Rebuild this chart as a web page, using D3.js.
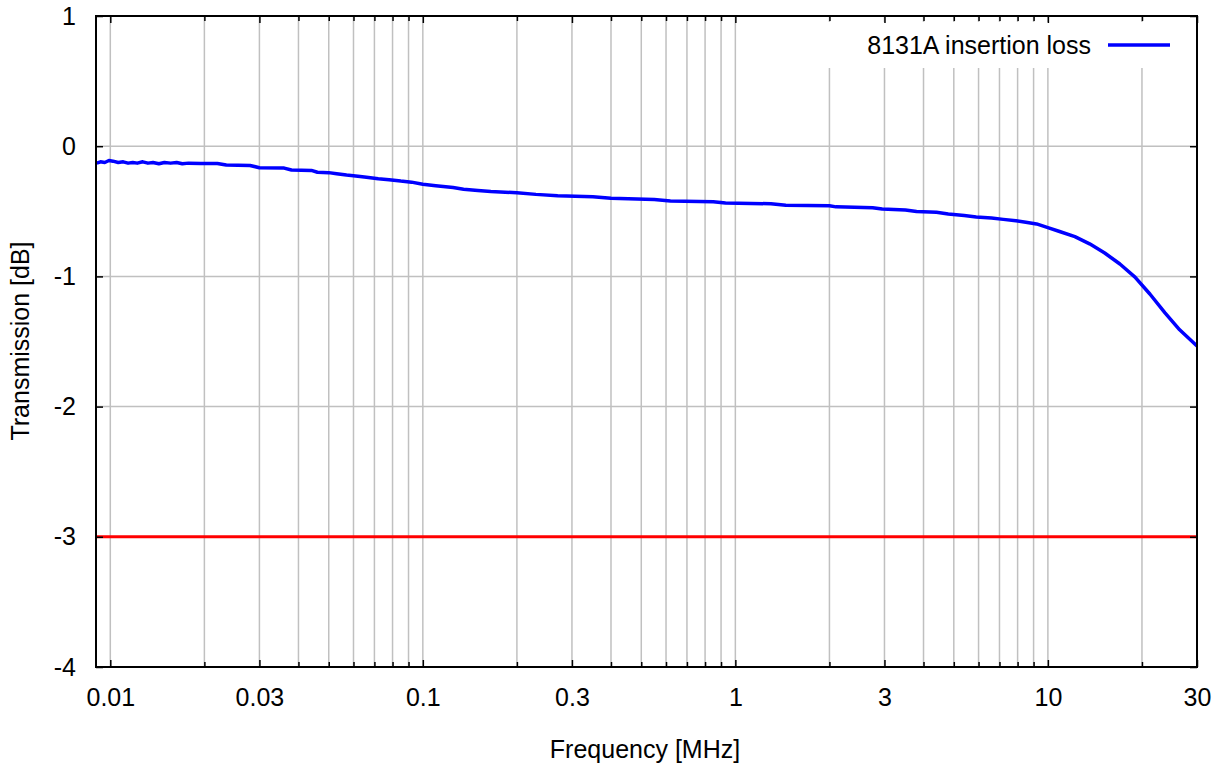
<!DOCTYPE html>
<html>
<head>
<meta charset="utf-8">
<script src="https://cdn.jsdelivr.net/npm/d3@7"></script>
<style>
  html, body { margin: 0; padding: 0; background: #fff; }
  svg { display: block; font-family: "Liberation Sans", Arial, sans-serif; }
</style>
</head>
<body>
<svg id="chart" width="1223" height="765"></svg>
<script>
// ---- data ----
const freqMHz = [0.00905, 0.0093, 0.0096, 0.0099, 0.0102, 0.0106, 0.011, 0.0114, 0.0118, 0.0122,
  0.0127, 0.0132, 0.0137, 0.0143, 0.0149, 0.0156, 0.0163, 0.017, 0.0178, 0.0195,
  0.022, 0.0235, 0.028, 0.03, 0.036, 0.038, 0.044, 0.046, 0.05, 0.053,
  0.057, 0.062, 0.066, 0.072, 0.078, 0.085, 0.092, 0.1, 0.11, 0.125,
  0.135, 0.15, 0.165, 0.2, 0.23, 0.27, 0.35, 0.4, 0.55, 0.62,
  0.85, 0.93, 1.3, 1.45, 2.0, 2.1, 2.75, 2.95, 3.5, 3.8,
  4.4, 4.8, 5.4, 5.9, 6.6, 7.2, 7.9, 8.5, 9.2, 10,
  10.9, 12.2, 13.6, 15.2, 17.0, 19.0, 21.2, 23.7, 26.4, 30];
const lossDb = [-0.13, -0.12, -0.125, -0.11, -0.115, -0.125, -0.12, -0.13, -0.125, -0.13,
  -0.12, -0.13, -0.125, -0.135, -0.125, -0.13, -0.125, -0.135, -0.13, -0.133,
  -0.133, -0.145, -0.148, -0.165, -0.168, -0.183, -0.186, -0.2, -0.203, -0.212,
  -0.222, -0.23, -0.238, -0.25, -0.257, -0.268, -0.276, -0.292, -0.303, -0.318,
  -0.33, -0.34, -0.348, -0.358, -0.37, -0.38, -0.388, -0.4, -0.41, -0.42,
  -0.427, -0.437, -0.442, -0.453, -0.457, -0.466, -0.472, -0.482, -0.49, -0.502,
  -0.508, -0.52, -0.532, -0.543, -0.552, -0.562, -0.572, -0.584, -0.597, -0.625,
  -0.655, -0.695, -0.75, -0.82, -0.905, -1.005, -1.135, -1.28, -1.41, -1.535];
const refFreq = [0.009, 30];
const refDb = [-3, -3];
const xTickLabels = [0.01, 0.03, 0.1, 0.3, 1, 3, 10, 30];
const xGrid = [0.01,0.02,0.03,0.04,0.05,0.06,0.07,0.08,0.09,
               0.1,0.2,0.3,0.4,0.5,0.6,0.7,0.8,0.9,
               1,2,3,4,5,6,7,8,9,10,20,30];
const yTicks = [-4, -3, -2, -1, 0, 1];
const seriesName = "8131A insertion loss";

// ---- layout ----
const L = 96, T = 16, R = 1197, B = 667;
const svg = d3.select("#chart");
const x = d3.scaleLog().domain([0.009, 30]).range([L, R]);
const y = d3.scaleLinear().domain([-4, 1]).range([B, T]);
const fontSize = 25;

// grid
const grid = svg.append("g").attr("stroke", "#c0c0c0").attr("stroke-width", 1.5);
grid.selectAll("line.vx").data(xGrid).join("line")
  .attr("x1", d => x(d)).attr("x2", d => x(d)).attr("y1", T).attr("y2", B);
grid.selectAll("line.hy").data(yTicks).join("line")
  .attr("x1", L).attr("x2", R).attr("y1", d => y(d)).attr("y2", d => y(d));

// legend background (covers grid)
svg.append("rect").attr("x", 822).attr("y", 22).attr("width", R - 822 - 1).attr("height", 46).attr("fill", "#fff");

// reference -3 dB line
const line = d3.line().x(d => x(d[0])).y(d => y(d[1]));
svg.append("path").datum(refFreq.map((f, i) => [f, refDb[i]]))
  .attr("d", line).attr("fill", "none").attr("stroke", "#ff0000").attr("stroke-width", 3);

// series
svg.append("path").datum(freqMHz.map((f, i) => [f, lossDb[i]]))
  .attr("d", line).attr("fill", "none").attr("stroke", "#0000ff").attr("stroke-width", 3.5)
  .attr("stroke-linejoin", "round");

// axes
const minor = xGrid.filter(v => !xTickLabels.includes(v));
function styleAxis(g) {
  g.select(".domain").remove();
  g.selectAll(".tick line").attr("stroke", "#000").attr("stroke-width", 1.5);
  g.selectAll(".tick text").attr("font-size", fontSize).attr("fill", "#000")
    .attr("font-family", "Liberation Sans, Arial, sans-serif");
}
svg.append("g").attr("transform", `translate(0,${B})`)
  .call(d3.axisBottom(x).tickValues(minor).tickSize(-5).tickFormat(""))
  .call(styleAxis);
svg.append("g").attr("transform", `translate(0,${B})`)
  .call(d3.axisBottom(x).tickValues(xTickLabels).tickSize(-7).tickPadding(21).tickFormat(d => String(d)))
  .call(styleAxis);
svg.append("g").attr("transform", `translate(0,${T})`)
  .call(d3.axisTop(x).tickValues(minor).tickSize(-5).tickFormat(""))
  .call(styleAxis);
svg.append("g").attr("transform", `translate(0,${T})`)
  .call(d3.axisTop(x).tickValues(xTickLabels).tickSize(-7).tickFormat(""))
  .call(styleAxis);
svg.append("g").attr("transform", `translate(${L},0)`)
  .call(d3.axisLeft(y).tickValues(yTicks).tickSize(-7).tickPadding(20).tickFormat(d3.format("d")))
  .call(styleAxis);
svg.append("g").attr("transform", `translate(${R},0)`)
  .call(d3.axisRight(y).tickValues(yTicks).tickSize(-7).tickFormat(""))
  .call(styleAxis);
svg.selectAll(".tick text").each(function() {
  const t = d3.select(this);
  if (t.text().startsWith("−")) t.text("-" + t.text().slice(1));
});

// frame
svg.append("rect").attr("x", L).attr("y", T).attr("width", R - L).attr("height", B - T)
  .attr("fill", "none").attr("stroke", "#000").attr("stroke-width", 2);

// axis titles
svg.append("text").attr("x", 645).attr("y", 758).attr("text-anchor", "middle")
  .attr("font-size", fontSize).text("Frequency [MHz]");
svg.append("text").attr("transform", `translate(29,341) rotate(-90)`).attr("text-anchor", "middle")
  .attr("font-size", fontSize).text("Transmission [dB]");

// legend
svg.append("text").attr("x", 1091).attr("y", 54).attr("text-anchor", "end")
  .attr("font-size", fontSize).text(seriesName);
svg.append("line").attr("x1", 1108).attr("x2", 1170).attr("y1", 45).attr("y2", 45)
  .attr("stroke", "#0000ff").attr("stroke-width", 3.5);
</script>
</body>
</html>
